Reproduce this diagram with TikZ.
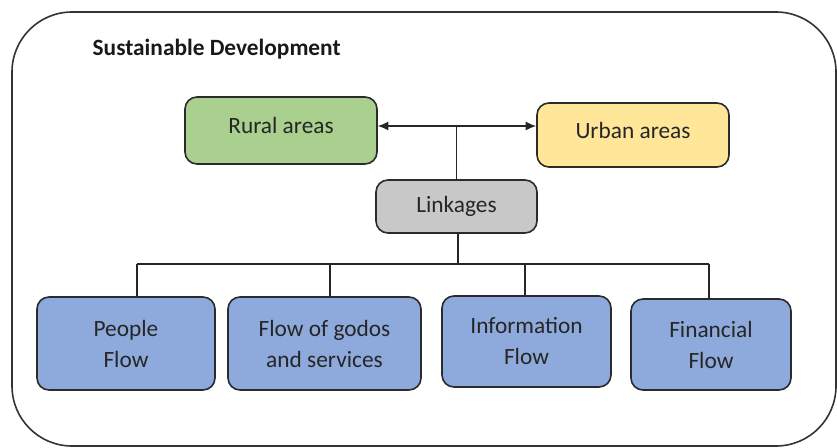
\documentclass[tikz,border=0pt]{standalone}
\usepackage{fontspec}
\setmainfont{Carlito}
\usetikzlibrary{arrows.meta}
\definecolor{ruralgreen}{HTML}{A9D08E}
\definecolor{urbanyellow}{HTML}{FFE699}
\definecolor{linkgray}{HTML}{C8C8C8}
\definecolor{flowblue}{HTML}{8EA9DB}
\definecolor{boxborder}{HTML}{2B2B2B}
\begin{document}
\begin{tikzpicture}[x=0.75pt,y=-0.75pt,
  box/.style={draw=boxborder, line width=1.2pt, rounded corners=9pt, align=center,
    inner sep=0pt, font=\fontsize{17.5}{23.25}\selectfont, text=black!85},
  conn/.style={draw=black!85, line width=1.1pt},
  arr/.style={conn, {Latex[length=8pt,width=7pt]}-{Latex[length=8pt,width=7pt]}}]
\useasboundingbox (0,0) rectangle (837,447);
% outer frame
\draw[draw=black!80, line width=1.2pt, rounded corners=45pt] (12,12) rectangle (836,446);
\node[anchor=west, font=\fontsize{17.5}{21}\selectfont\bfseries, text=black!90] (title) at (88,49) {Sustainable Development};
% top row
\node[box, fill=ruralgreen, minimum width=144pt, minimum height=50.25pt, text depth=7pt] (rural) at (281,130.5) {Rural areas};
\node[box, fill=urbanyellow, minimum width=144pt, minimum height=48pt, text depth=7pt] (urban) at (633,135) {Urban areas};
\node[box, fill=linkgray, minimum width=120.75pt, minimum height=39.75pt] (link) at (456.5,206.5) {Linkages};
% bottom row
\node[box, fill=flowblue, minimum width=133.5pt, minimum height=69.75pt] (people) at (126,343.5) {People\\Flow};
\node[box, fill=flowblue, minimum width=144.75pt, minimum height=69.75pt] (goods) at (324.5,343.5) {Flow of godos\\and services};
\node[box, fill=flowblue, minimum width=126.75pt, minimum height=68.25pt] (info) at (526.5,341.5) {Information\\Flow};
\node[box, fill=flowblue, minimum width=120pt, minimum height=68.25pt] (fin) at (711,344.5) {Financial\\Flow};
% connectors
\coordinate (junc) at (456.5,126);
\coordinate (bus) at (458,264);
\draw[arr] (rural.east |- junc) -- (urban.west |- junc);
\draw[conn] (link.north) -- (junc);
\draw[conn] (link.south -| bus) -- (bus);
\coordinate (pdrop) at ([xshift=8.25pt]people.north);
\coordinate (gdrop) at ([xshift=4.1pt]goods.north);
\coordinate (idrop) at ([xshift=-1.1pt]info.north);
\coordinate (fdrop) at ([xshift=-1.5pt]fin.north);
\draw[conn] (pdrop |- bus) -- (fdrop |- bus);
\draw[conn] (pdrop |- bus) -- (pdrop);
\draw[conn] (gdrop |- bus) -- (gdrop);
\draw[conn] (idrop |- bus) -- (idrop);
\draw[conn] (fdrop |- bus) -- (fdrop);
\end{tikzpicture}
\end{document}
